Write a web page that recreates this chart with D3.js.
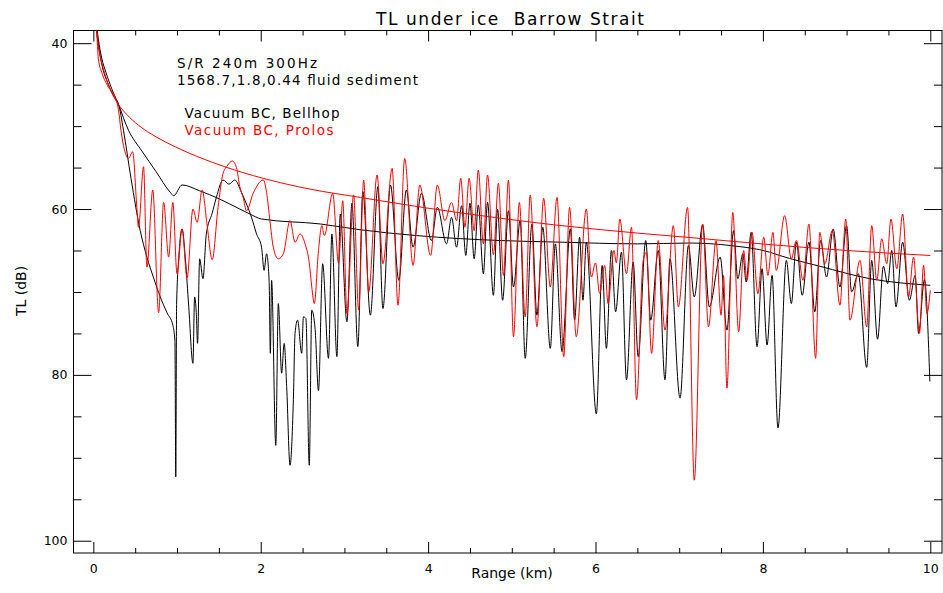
<!DOCTYPE html>
<html>
<head>
<meta charset="utf-8">
<script src="https://cdn.jsdelivr.net/npm/d3@7"></script>
<style>
  html, body { margin: 0; padding: 0; background: #fff; }
  svg text { font-family: "DejaVu Sans", sans-serif; fill: #000; white-space: pre; }
</style>
</head>
<body>
<svg id="chart" width="943" height="593"></svg>
<script>
// range (km), TL (dB)
const bellhop = [
  [0.02,37.0],[0.05,39.5],[0.10,42.5],[0.18,45.0],[0.25,46.5],[0.30,47.3],[0.36,50.5],[0.45,56.3],
  [0.56,62.6],[0.64,65.8],[0.72,68.3],[0.80,70.6],[0.88,72.5],[0.95,74.0],[0.975,76.0],[0.985,92.3],
  [0.995,71.5],[1.02,66.0],[1.06,62.4],[1.10,66.0],[1.14,71.8],[1.19,78.6],[1.21,70.6],[1.23,72.5],
  [1.245,76.2],[1.27,66.0],[1.31,68.4],[1.35,63.0],[1.42,60.5],[1.47,58.6],[1.55,56.5],[1.62,57.0],
  [1.69,56.5],[1.77,58.0],[1.83,59.4],[1.89,61.0],[1.95,63.0],[2.01,64.6],[2.04,67.4],[2.07,65.4],
  [2.10,68.6],[2.115,77.4],[2.13,68.6],[2.18,88.5],[2.21,71.4],[2.25,79.8],[2.28,76.2],[2.31,81.4],
  [2.35,90.9],[2.39,83.0],[2.41,75.0],[2.44,73.4],[2.49,77.4],[2.51,73.0],[2.54,73.2],[2.58,90.9],
  [2.61,72.2],[2.65,74.5],[2.69,81.9],[2.74,66.6],[2.81,78.0],[2.85,63.0],[2.91,77.8],[2.95,60.6],
  [3.03,73.6],[3.09,59.3],[3.16,76.6],[3.22,57.9],[3.31,72.8],[3.40,57.3],[3.46,72.0],[3.55,57.1],
  [3.65,68.6],[3.74,57.7],[3.82,64.6],[3.92,58.1],[4.04,63.8],[4.11,59.8],[4.22,64.2],[4.28,61.0],
  [4.34,64.6],[4.40,59.6],[4.45,65.6],[4.50,59.3],[4.55,66.0],[4.60,59.5],[4.66,67.8],[4.71,59.2],
  [4.78,70.4],[4.83,60.0],[4.89,71.0],[4.96,60.2],[5.02,69.4],[5.10,61.4],[5.16,78.0],[5.24,61.8],
  [5.30,72.8],[5.37,62.2],[5.46,76.8],[5.52,64.2],[5.60,77.2],[5.70,62.4],[5.75,73.4],[5.81,63.4],
  [5.85,71.0],[5.89,64.0],[6.01,84.7],[6.08,66.8],[6.13,76.8],[6.19,65.0],[6.24,72.4],[6.31,65.2],
  [6.37,80.6],[6.45,66.4],[6.51,77.8],[6.60,63.8],[6.66,73.4],[6.75,65.0],[6.83,80.6],[6.89,66.0],
  [7.01,82.8],[7.11,64.4],[7.18,70.6],[7.28,61.9],[7.36,71.8],[7.49,65.8],[7.57,74.6],[7.65,62.6],
  [7.70,68.4],[7.76,65.4],[7.80,68.8],[7.86,62.8],[7.93,76.6],[7.99,67.2],[8.05,76.4],[8.11,68.0],
  [8.18,86.4],[8.28,66.2],[8.34,71.4],[8.40,64.0],[8.47,70.4],[8.55,64.0],[8.62,72.4],[8.69,63.8],
  [8.76,68.2],[8.84,62.4],[8.92,69.4],[9.00,62.0],[9.06,70.0],[9.14,67.8],[9.24,79.1],[9.30,66.2],
  [9.37,75.7],[9.44,66.9],[9.49,69.0],[9.54,65.0],[9.59,71.8],[9.67,64.0],[9.75,71.0],[9.82,68.0],
  [9.86,75.0],[9.93,68.5],[9.995,80.8]
]

const prolos = [
  [0.03,37.0],[0.04,38.5],[0.06,41.9],[0.10,43.5],[0.18,45.3],[0.26,46.5],[0.30,48.0],[0.33,50.5],
  [0.37,52.8],[0.42,53.9],[0.47,53.1],[0.52,59.8],[0.54,62.2],[0.60,54.9],[0.64,67.0],[0.71,57.7],
  [0.78,72.5],[0.84,59.2],[0.90,65.8],[0.95,59.2],[1.00,67.8],[1.06,62.4],[1.12,68.3],[1.19,60.0],
  [1.24,61.6],[1.30,57.7],[1.36,62.0],[1.42,66.1],[1.49,59.8],[1.55,55.7],[1.60,54.8],[1.66,54.2],
  [1.71,55.0],[1.75,57.3],[1.79,58.6],[1.83,60.2],[1.91,58.1],[2.03,56.5],[2.07,58.0],[2.11,61.4],
  [2.15,64.6],[2.21,66.0],[2.27,65.4],[2.35,61.4],[2.41,64.0],[2.47,63.0],[2.53,64.2],[2.58,66.5],
  [2.61,69.4],[2.64,71.4],[2.69,65.0],[2.73,62.0],[2.76,63.2],[2.86,58.1],[2.93,66.5],[2.98,59.0],
  [3.03,72.6],[3.11,58.3],[3.17,72.2],[3.23,56.5],[3.29,70.0],[3.39,55.9],[3.46,66.6],[3.57,55.1],
  [3.64,71.6],[3.72,53.9],[3.82,66.8],[3.90,57.1],[4.03,65.6],[4.11,57.1],[4.20,61.4],[4.28,59.2],
  [4.34,61.4],[4.39,56.3],[4.44,62.2],[4.49,56.3],[4.55,62.6],[4.60,55.3],[4.66,64.2],[4.71,55.9],
  [4.78,65.5],[4.84,56.9],[4.90,68.0],[4.96,56.5],[5.02,75.4],[5.09,59.2],[5.16,73.0],[5.22,58.3],
  [5.30,74.2],[5.38,58.7],[5.46,69.4],[5.54,58.6],[5.62,77.8],[5.69,59.8],[5.77,75.4],[5.89,60.0],
  [5.95,68.2],[6.00,66.5],[6.05,70.2],[6.11,66.8],[6.15,71.4],[6.22,65.0],[6.25,66.5],[6.29,61.2],
  [6.37,67.8],[6.43,62.2],[6.49,83.0],[6.57,66.2],[6.61,65.2],[6.67,77.4],[6.75,63.8],[6.83,74.6],
  [6.93,62.0],[6.99,71.8],[7.10,59.8],[7.18,92.7],[7.28,61.8],[7.35,74.2],[7.44,63.8],[7.50,72.8],
  [7.53,68.0],[7.57,81.6],[7.64,60.4],[7.71,74.8],[7.77,65.0],[7.81,68.6],[7.87,62.8],[7.94,70.2],
  [8.01,63.4],[8.06,68.0],[8.12,62.8],[8.16,67.4],[8.26,60.8],[8.34,66.0],[8.40,63.8],[8.48,68.6],
  [8.55,61.8],[8.63,78.0],[8.68,62.8],[8.74,66.6],[8.83,62.6],[8.92,71.6],[8.99,61.2],[9.04,73.4],
  [9.16,66.2],[9.24,74.2],[9.30,62.0],[9.36,68.6],[9.42,63.6],[9.48,66.6],[9.53,61.2],[9.60,67.2],
  [9.67,60.6],[9.74,70.6],[9.80,65.8],[9.87,75.0],[9.92,66.8],[9.96,72.6],[10.0,69.8]
]

// smooth (range-averaged) curves
const bellhopSmooth = [
  [0.03,37.0],[0.06,39.5],[0.10,41.8],[0.15,43.5],[0.22,45.5],[0.30,47.4],[0.42,50.5],[0.58,53.0],
  [0.75,55.5],[0.92,58.0],[0.96,58.4],[1.06,57.1],[1.27,57.8],[1.51,58.8],[1.75,60.0],[1.87,60.6],
  [2.01,61.2],[2.71,61.8],[3.19,62.5],[3.86,63.2],[4.86,63.8],[5.60,64.0],[6.50,64.2],[7.13,64.1],
  [7.61,64.4],[8.08,65.2],[8.20,65.6],[8.68,66.9],[9.28,68.4],[10.0,69.2]
]

const prolosSmooth = [
  [0.02,36.0],[0.05,39.5],[0.08,41.5],[0.12,43.1],[0.20,45.5],[0.28,47.1],[0.40,48.6],[0.54,49.9],
  [0.75,51.3],[0.98,52.5],[1.25,53.7],[1.57,54.9],[2.03,56.3],[2.59,57.6],[3.19,58.6],[4.00,59.9],
  [4.86,61.1],[5.50,61.9],[6.50,62.9],[7.20,63.5],[8.10,64.3],[9.00,65.0],[10.0,65.6]
]

const xMajor = [0, 2, 4, 6, 8, 10]
const xMinor = [0.5, 1, 1.5, 2.5, 3, 3.5, 4.5, 5, 5.5, 6.5, 7, 7.5, 8.5, 9, 9.5]
const yMajor = [40, 60, 80, 100]
const yMinor = [45, 50, 55, 65, 70, 75, 85, 90, 95]

const notes = [
  {text: 'S/R 240m 300Hz', x: 177, y: 68, w: 140, color: '#000'},
  {text: '1568.7,1.8,0.44 fluid sediment', x: 177, y: 84.5, w: 241, color: '#000'},
  {text: 'Vacuum BC, Bellhop', x: 184.5, y: 118, w: 155, color: '#000'},
  {text: 'Vacuum BC, Prolos', x: 184.5, y: 135, w: 149, color: '#ff0000'}
]

const box = {left: 73.5, right: 942, top: 30.5, bottom: 553}

const svg = d3.select('#chart')

const x = d3.scaleLinear().domain([-0.237, 10.14]).range([box.left, box.right])
const y = d3.scaleLinear().domain([38.47, 101.48]).range([box.top, box.bottom])

svg.append('defs').append('clipPath').attr('id', 'plotclip')
  .append('rect')
    .attr('x', box.left).attr('y', box.top)
    .attr('width', box.right - box.left).attr('height', box.bottom - box.top)

function axis (gen, tx, ty) {
  let g = svg.append('g')
    .attr('transform', 'translate(' + tx + ',' + ty + ')')
    .call(gen)
  g.select('.domain').remove()
  g.selectAll('line').attr('stroke', '#000').attr('stroke-width', 1)
  g.selectAll('text').style('font-size', '12.5px').attr('fill', '#000')
  return g
}

// bottom / top
axis(d3.axisBottom(x).tickValues(xMajor).tickSize(-11).tickPadding(11).tickFormat(d3.format('d')), 0, box.bottom)
axis(d3.axisBottom(x).tickValues(xMinor).tickSize(-5).tickFormat(''), 0, box.bottom)
axis(d3.axisTop(x).tickValues(xMajor).tickSize(-11).tickFormat(''), 0, box.top)
axis(d3.axisTop(x).tickValues(xMinor).tickSize(-5).tickFormat(''), 0, box.top)
// left / right
axis(d3.axisLeft(y).tickValues(yMajor).tickSize(-18).tickPadding(6).tickFormat(d3.format('d')), box.left, 0)
axis(d3.axisLeft(y).tickValues(yMinor).tickSize(-8).tickFormat(''), box.left, 0)
axis(d3.axisRight(y).tickValues(yMajor).tickSize(-18).tickFormat(''), box.right, 0)
axis(d3.axisRight(y).tickValues(yMinor).tickSize(-8).tickFormat(''), box.right, 0)

svg.append('rect')
  .attr('x', box.left).attr('y', box.top)
  .attr('width', box.right - box.left).attr('height', box.bottom - box.top)
  .attr('fill', 'none').attr('stroke', '#000').attr('stroke-width', 1)

let line = d3.line()
  .x((d) => x(d[0]))
  .y((d) => y(d[1]))
  .curve(d3.curveMonotoneX)

let plot = svg.append('g').attr('clip-path', 'url(#plotclip)')

const series = [
  {data: bellhop, color: '#000'},
  {data: bellhopSmooth, color: '#000'},
  {data: prolos, color: '#ff0000'},
  {data: prolosSmooth, color: '#ff0000'}
]

plot.selectAll('path')
  .data(series)
  .enter()
  .append('path')
    .attr('d', (d) => line(d.data))
    .attr('fill', 'none')
    .attr('stroke', (d) => d.color)
    .attr('stroke-width', 1)

// labels
svg.append('text')
  .attr('x', 510).attr('y', 24.5)
  .attr('text-anchor', 'middle')
  .attr('textLength', 268).attr('lengthAdjust', 'spacing')
  .style('font-size', '17px')
  .text('TL under ice  Barrow Strait')

svg.append('text')
  .attr('x', 512).attr('y', 578)
  .attr('text-anchor', 'middle')
  .style('font-size', '14px')
  .text('Range (km)')

svg.append('text')
  .attr('transform', 'translate(26,291) rotate(-90)')
  .attr('text-anchor', 'middle')
  .style('font-size', '14px')
  .text('TL (dB)')

svg.selectAll('text.note')
  .data(notes)
  .enter()
  .append('text')
    .attr('class', 'note')
    .attr('x', (d) => d.x)
    .attr('y', (d) => d.y)
    .attr('textLength', (d) => d.w)
    .attr('lengthAdjust', 'spacing')
    .attr('fill', (d) => d.color)
    .style('fill', (d) => d.color)
    .style('font-size', '13.5px')
    .text((d) => d.text)
</script>
</body>
</html>
